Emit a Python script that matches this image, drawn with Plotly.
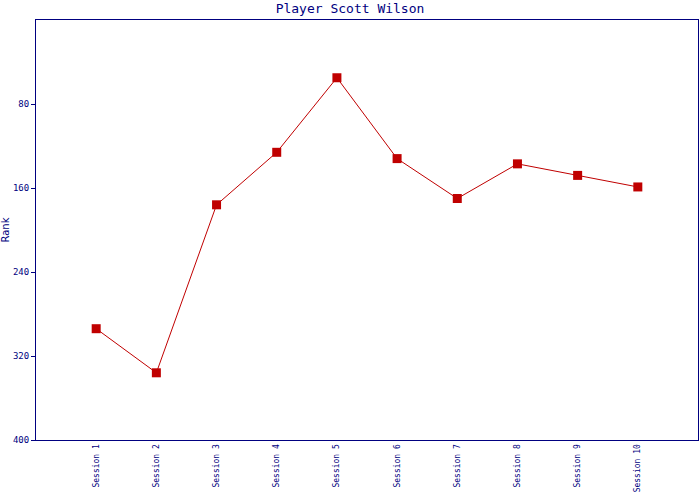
import plotly.graph_objects as go

sessions = ["Session 1", "Session 2", "Session 3", "Session 4", "Session 5",
            "Session 6", "Session 7", "Session 8", "Session 9", "Session 10"]
ranks = [294, 336, 176, 126, 55, 132, 170, 137, 148, 159]
y_ticks = [80, 160, 240, 320, 400]

navy = "#000080"
red = "#c00000"
font = "DejaVu Sans Mono"

fig = go.Figure(go.Scatter(
    x=list(range(len(sessions))), y=ranks, mode="lines+markers",
    line=dict(color=red, width=1),
    marker=dict(symbol="square", size=9, color=red),
))

fig.update_layout(
    width=700, height=500,
    margin=dict(l=36, r=2, t=20, b=60, autoexpand=False),
    paper_bgcolor="white", plot_bgcolor="white",
    showlegend=False,
    title=dict(text="Player Scott Wilson", x=0.5, xanchor="center",
               y=0.984, yanchor="middle", automargin=False,
               font=dict(family=font, size=13, color=navy)),
    xaxis=dict(range=[-1, 10], tickmode="array",
               tickvals=list(range(len(sessions))), ticktext=sessions,
               tickangle=-90, showgrid=False, zeroline=False, automargin=False,
               showline=True, linecolor=navy, linewidth=1, mirror=True,
               ticks="", tickfont=dict(family=font, size=8, color=navy)),
    yaxis=dict(range=[400, 0], tickmode="array", tickvals=y_ticks,
               showgrid=False, zeroline=False, automargin=False,
               showline=True, linecolor=navy, linewidth=1, mirror=True,
               ticks="outside", ticklen=4, tickcolor=navy,
               tickfont=dict(family=font, size=9, color=navy),
               title=dict(text="Rank", standoff=7,
                          font=dict(family="DejaVu Sans", size=10, color=navy))),
)

fig.write_html("out.html", config={"displayModeBar": False},
               post_script="document.body.style.margin='0';")
